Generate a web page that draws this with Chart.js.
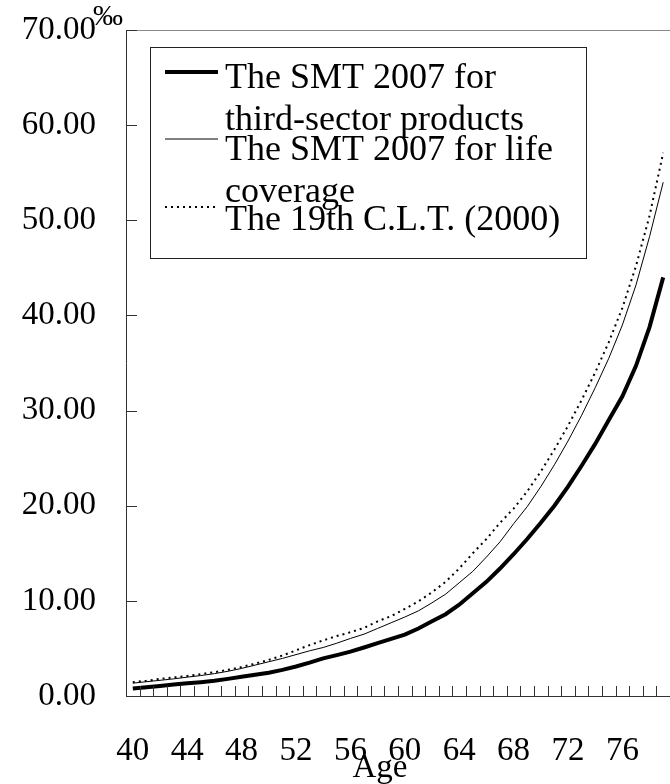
<!DOCTYPE html>
<html>
<head>
<meta charset="utf-8">
<script src="https://cdn.jsdelivr.net/npm/chart.js@4.4.0/dist/chart.umd.min.js"></script>
<style>
  html, body { margin: 0; padding: 0; background: #fff; }
  #wrap { width: 670px; height: 784px; }
</style>
</head>
<body>
<div id="wrap"><canvas id="mortalityChart" width="670" height="784"></canvas></div>
<script>
// Mortality rates (per mille) by age

const ages = [40, 41, 42, 43, 44, 45, 46, 47, 48, 49, 50, 51, 52, 53, 54, 55, 56, 57, 58, 59,
  60, 61, 62, 63, 64, 65, 66, 67, 68, 69, 70, 71, 72, 73, 74, 75, 76, 77, 78, 79];

const smtThirdSector = [0.8, 0.92, 1.05, 1.2, 1.33, 1.45, 1.6, 1.8, 2.02, 2.24, 2.45, 2.75, 3.1, 3.5,
  3.95, 4.3, 4.66, 5.1, 5.55, 6.0, 6.45, 7.1, 7.85, 8.6, 9.6, 10.8, 12.0, 13.4, 14.9, 16.5,
  18.2, 20.0, 22.0, 24.2, 26.5, 29.0, 31.5, 34.7, 38.8, 44.0];

const smtLife = [1.35, 1.5, 1.65, 1.8, 1.98, 2.15, 2.35, 2.6, 2.9, 3.25, 3.6, 3.95, 4.35, 4.75,
  5.1, 5.55, 6.05, 6.5, 7.1, 7.7, 8.3, 8.95, 9.8, 10.7, 11.9, 13.1, 14.6, 16.2, 18.1, 19.9,
  22.0, 24.3, 26.8, 29.5, 32.4, 35.5, 39.0, 43.2, 48.3, 54.0];

const clt19th = [1.45, 1.6, 1.8, 1.95, 2.1, 2.3, 2.5, 2.75, 3.05, 3.4, 3.8, 4.25, 4.8, 5.35,
  5.85, 6.3, 6.7, 7.15, 7.85, 8.4, 9.15, 9.95, 10.9, 12.0, 13.4, 15.0, 16.5, 18.2, 19.7, 21.5,
  23.6, 25.9, 28.4, 31.1, 34.0, 37.2, 40.8, 45.2, 50.5, 57.1];

const yTicks = [0, 10, 20, 30, 40, 50, 60, 70];

const seriesLabels = [
  "The SMT 2007 for third-sector products",
  "The SMT 2007 for life coverage",
  "The 19th C.L.T. (2000)",
];
// how the legend text wraps in the original
const legendLines = [
  ["The SMT 2007 for", "third-sector products"],
  ["The SMT 2007 for life", "coverage"],
  ["The 19th C.L.T. (2000)"],
];

const xTitle = "Age";
const unitLabel = "‰";

const serif = "'Liberation Serif', 'DejaVu Serif', serif";

function strokeLine(ctx, x1, y1, x2, y2) {
  ctx.beginPath();
  ctx.moveTo(x1, y1);
  ctx.lineTo(x2, y2);
  ctx.stroke();
}

// Draws the frame top, inward tick marks, unit, axis title and the boxed legend
const chartDecor = {
  id: "chartDecor",
  afterDraw(chart) {
    const ctx = chart.ctx;
    const area = chart.chartArea;
    const xs = chart.scales.x;
    const ys = chart.scales.y;

    ctx.save();

    // top line of the plot frame
    ctx.strokeStyle = "#888";
    ctx.lineWidth = 1;
    strokeLine(ctx, area.left, area.top + 0.5, area.right, area.top + 0.5);

    // inward ticks
    ctx.strokeStyle = "#333";
    yTicks.forEach((v) => {
      const py = Math.round(ys.getPixelForValue(v)) + 0.5;
      strokeLine(ctx, area.left, py, area.left + 11, py);
    });
    const half = (xs.getPixelForValue(1) - xs.getPixelForValue(0)) / 2;
    for (let i = 0; i <= ages.length; i++) {
      const px = Math.round(xs.getPixelForValue(i) - half) + 0.5;
      strokeLine(ctx, px, area.bottom, px, area.bottom - 10);
    }

    // unit and axis title
    ctx.fillStyle = "#000";
    ctx.textBaseline = "alphabetic";
    ctx.textAlign = "left";
    ctx.font = "30px " + serif;
    ctx.fillText(unitLabel, 93, 25);

    ctx.textAlign = "center";
    ctx.font = "33px " + serif;
    ctx.fillText(xTitle, 380, 777);

    // legend
    const box = { left: 150, top: 47, right: 586, bottom: 258 };
    ctx.fillStyle = "#fff";
    ctx.fillRect(box.left, box.top, box.right - box.left, box.bottom - box.top);
    ctx.strokeStyle = "#222";
    ctx.lineWidth = 1;
    ctx.strokeRect(box.left + 0.5, box.top + 0.5, box.right - box.left, box.bottom - box.top);

    const sampleY = [72, 139, 207];
    const baseY = [88, 160, 230];
    ctx.font = "36px " + serif;
    ctx.textAlign = "left";
    chart.data.datasets.forEach((ds, i) => {
      ctx.strokeStyle = ds.borderColor;
      ctx.lineWidth = ds.borderWidth;
      ctx.setLineDash(ds.borderDash || []);
      strokeLine(ctx, 165, sampleY[i], 218, sampleY[i]);
      ctx.setLineDash([]);
      ctx.fillStyle = "#000";
      legendLines[i].forEach((txt, j) => {
        ctx.fillText(txt, 225, baseY[i] + j * 42);
      });
    });

    ctx.restore();
  },
};

const ctx = document.getElementById("mortalityChart").getContext("2d");

new Chart(ctx, {
  type: "line",
  data: {
    labels: ages,
    datasets: [
      {
        label: seriesLabels[0],
        data: smtThirdSector,
        borderColor: "#000",
        borderWidth: 4,
        pointRadius: 0,
        tension: 0,
        fill: false,
      },
      {
        label: seriesLabels[1],
        data: smtLife,
        borderColor: "#000",
        borderWidth: 1,
        pointRadius: 0,
        tension: 0,
        fill: false,
      },
      {
        label: seriesLabels[2],
        data: clt19th,
        borderColor: "#000",
        borderWidth: 2,
        borderDash: [2, 4],
        pointRadius: 0,
        tension: 0,
        fill: false,
      },
    ],
  },
  options: {
    responsive: false,
    animation: false,
    layout: { padding: { top: 30, left: 0, right: 0, bottom: 0 } },
    plugins: {
      legend: { display: false },
      tooltip: { enabled: false },
    },
    scales: {
      x: {
        type: "category",
        offset: true,
        grid: { display: true, drawOnChartArea: false, drawTicks: false },
        border: { display: true, color: "#333", width: 1 },
        ticks: {
          autoSkip: false,
          maxRotation: 0,
          minRotation: 0,
          padding: 36,
          color: "#000",
          font: { family: serif, size: 33 },
          callback: function (value, index) {
            const age = ages[index];
            return (age - 40) % 4 === 0 ? String(age) : "";
          },
        },
        afterFit: function (scale) {
          scale.height = 88;
          scale.paddingLeft = 0;
          scale.paddingRight = 0;
        },
      },
      y: {
        min: 0,
        max: 70,
        grid: { display: true, drawOnChartArea: false, drawTicks: false },
        border: { display: true, color: "#333", width: 1 },
        ticks: {
          stepSize: 10,
          padding: 30,
          color: "#000",
          font: { family: serif, size: 33 },
          callback: function (value) {
            return value.toFixed(2);
          },
        },
        afterFit: function (scale) {
          scale.width = 126;
          scale.paddingTop = 0;
          scale.paddingBottom = 0;
        },
      },
    },
  },
  plugins: [chartDecor],
});
</script>
</body>
</html>
